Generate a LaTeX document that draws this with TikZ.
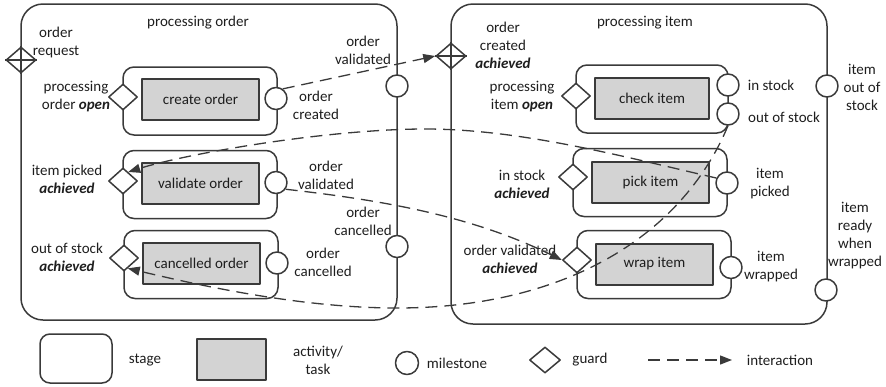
\documentclass[tikz,border=0pt]{standalone}
\usepackage{fontspec}
\setmainfont{Carlito}
\usetikzlibrary{shapes.geometric,arrows.meta}
\newcommand{\fsz}{\fontsize{15}{18}\selectfont}
\newcommand{\bi}[1]{\textbf{\textit{#1}}}
\definecolor{edge}{HTML}{3A3A3A}
\definecolor{actfill}{HTML}{D3D3D3}
\definecolor{txt}{HTML}{1E1E1E}
\begin{document}
\begin{tikzpicture}[x=1pt,y=-1pt,line join=round,
  bigstage/.style={draw=edge, line width=1.5pt, rounded corners=22pt, inner sep=0},
  substage/.style={draw=edge, line width=1.5pt, rounded corners=11pt, inner sep=0, minimum width=154pt, minimum height=68pt},
  activity/.style={draw=edge, line width=2pt, fill=actfill, minimum width=117pt, minimum height=41pt, inner sep=0, font=\fsz, text=txt},
  guard/.style={diamond, draw=edge, line width=1.5pt, fill=white, minimum width=29pt, minimum height=26pt, inner sep=0},
  milestone/.style={circle, draw=edge, line width=1.5pt, fill=white, minimum size=22pt, inner sep=0},
  lbl/.style={align=center, inner sep=0, font=\fsz, text=txt},
  edgeline/.style={draw=edge, line width=1.5pt},
  interaction/.style={draw=edge, line width=1.3pt, dash pattern=on 12pt off 7pt, -{Triangle[length=12pt,width=9pt]}},
]
\useasboundingbox (0,0) rectangle (886,386);

% big stages
\node[bigstage, minimum width=376pt, minimum height=316pt] (PO) at (209,162) {};
\node[bigstage, minimum width=376pt, minimum height=320pt] (PI) at (639,164) {};

% sub stages
\node[substage] (sCO) at (200,101) {};
\node[substage] (sVO) at (200,184.5) {};
\node[substage] (sCA) at (201,264.5) {};
\node[substage, minimum width=152pt] (sCI) at (652,99) {};
\node[substage] (sPI) at (650,182.5) {};
\node[substage] (sWI) at (654,264.5) {};

% activities
\node[activity] (aCO) at (200.5,99.5) {create order};
\node[activity] (aVO) at (200.5,183.5) {validate order};
\node[activity] (aCA) at (201.5,263.5) {cancelled order};
\node[activity, minimum width=114pt] (aCI) at (652,98) {check item};
\node[activity] (aPI) at (650.5,182.5) {pick item};
\node[activity] (aWI) at (654.5,264) {wrap item};

% guards
\node[guard, minimum width=30pt] (gOR) at (21,60) {};
\draw[edgeline] (gOR.north) -- (gOR.south) (gOR.west) -- (gOR.east);
\node[guard, minimum width=30pt] (gOC) at (451,56) {};
\draw[edgeline] (gOC.north) -- (gOC.south) (gOC.west) -- (gOC.east);
\node[guard] (gCO) at (123,97) {};
\node[guard] (gVO) at (123,181) {};
\node[guard] (gCA) at (124,258) {};
\node[guard] (gCI) at (576,96) {};
\node[guard] (gPI) at (573,177) {};
\node[guard] (gWI) at (577,260) {};

% milestones
\node[milestone] (mCO) at (276,98.5) {};
\node[milestone] (mVO) at (276,182.5) {};
\node[milestone] (mCA) at (277,263) {};
\node[milestone] (mOV) at (397,86) {};
\node[milestone] (mOC) at (397,246.5) {};
\node[milestone] (mIS) at (728,85) {};
\node[milestone] (mOS) at (728,114) {};
\node[milestone] (mIP) at (727,183) {};
\node[milestone] (mIW) at (731,267.5) {};
\node[milestone] (mIO) at (827,86) {};
\node[milestone] (mIR) at (826,290) {};

% labels
\node[lbl] (tPO) at (198,23) {processing order};
\node[lbl] (tOR) at (56,42) {order\\request};
\node[lbl] (tOV) at (363,50) {order\\validated};
\node[lbl] (tPOo) at (76,97) {processing\\order \bi{open}};
\node[lbl] (tOCr) at (316,105) {order\\created};
\node[lbl] (tIPa) at (67,179) {item picked\\\bi{achieved}};
\node[lbl] (tOVd) at (326,175) {order\\validated};
\node[lbl] (tOCa) at (363,221) {order\\cancelled};
\node[lbl] (tOSa) at (67,257) {out of stock\\\bi{achieved}};
\node[lbl] (tOCb) at (323,262) {order\\cancelled};

\node[lbl] (tPI) at (645,23) {processing item};
\node[lbl] (tOCra) at (503,45) {order\\created\\\bi{achieved}};
\node[lbl] (tPIo) at (522,97) {processing\\item \bi{open}};
\node[lbl] (tIS) at (771,85) {in stock};
\node[lbl] (tOS) at (784,117) {out of stock};
\node[lbl] (tIOS) at (862,87) {item\\out of\\stock};
\node[lbl] (tISa) at (522,184) {in stock\\\bi{achieved}};
\node[lbl] (tIPk) at (770,184) {item\\picked};
\node[lbl] (tIRW) at (855,236) {item\\ready\\when\\wrapped};
\node[lbl] (tOVa) at (510,259) {order validated\\\bi{achieved}};
\node[lbl] (tIWr) at (771,267) {item\\wrapped};

% interactions
\draw[interaction] (mCO.55) -- (gOC.west);
\draw[interaction] (mIP.155) .. controls (621,156) and (520,129) .. (425,129)
  .. controls (330,129) and (189,153) .. (gVO.60);
\draw[interaction] (mVO.-35) .. controls (380,200) and (470,215) .. (gWI.west);
\draw[interaction] (mOS.south) .. controls (680,240) and (560,308) .. (397,308)
  .. controls (300,308) and (198,285) .. (gCA.-70);

% legend
\node[draw=edge, line width=1.5pt, rounded corners=10pt, minimum width=72pt, minimum height=49pt, inner sep=0] (Lst) at (76,358.5) {};
\node[lbl] (Lstt) at (145,360) {stage};
\node[activity, minimum width=69pt] (Lac) at (231.5,359.5) {};
\node[lbl] (Lact) at (318,360) {activity/\\task};
\node[milestone, minimum size=23pt] (Lms) at (407,363) {};
\node[lbl] (Lmst) at (457,363) {milestone};
\node[guard, minimum width=31pt] (Lg) at (545,360) {};
\node[lbl] (Lgt) at (590,360) {guard};
\coordinate (Li1) at (648,360);
\coordinate (Li2) at (732,360);
\draw[interaction] (Li1) -- (Li2);
\node[lbl] (Lit) at (780,360) {interaction};
\end{tikzpicture}
\end{document}
